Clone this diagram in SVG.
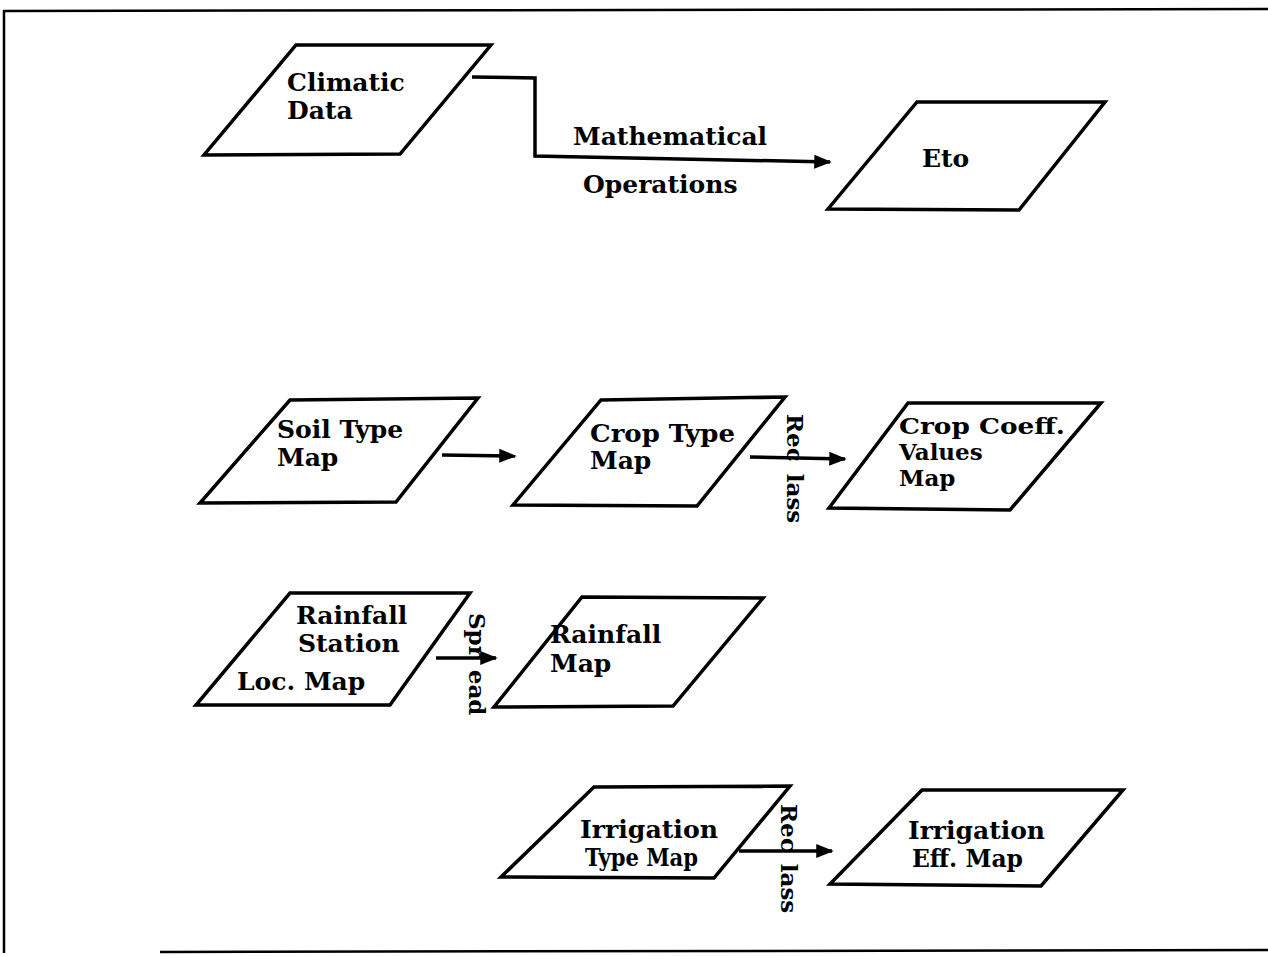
<svg xmlns="http://www.w3.org/2000/svg" width="1268" height="956" viewBox="0 0 1268 956">
<defs>
<marker id="ah" viewBox="0 0 10 10" refX="9" refY="5" markerWidth="5" markerHeight="5" orient="auto" markerUnits="strokeWidth">
<path d="M0,1 L10,5 L0,9 z" fill="#000"/>
</marker>
<style>
.sh{fill:#fff;stroke:#000;stroke-width:3.5;stroke-linejoin:miter}
.t{font-family:"DejaVu Serif","Liberation Serif",serif;font-weight:bold;font-size:25px;fill:#000}
.s{font-size:23px}
.r{font-family:"DejaVu Serif","Liberation Serif",serif;font-weight:bold;font-size:23px;fill:#000}
.a{fill:none;stroke:#000;stroke-width:3.5;marker-end:url(#ah)}
</style>
</defs>
<rect x="0" y="0" width="1268" height="956" fill="#fff"/>
<path d="M4,953 L4,11 L1268,9" fill="none" stroke="#000" stroke-width="2.5"/>
<path d="M160,952 L1268,950" fill="none" stroke="#000" stroke-width="2.5"/>

<g id="climatic">
<polygon class="sh" points="296,45 491,45 400,154 204,155"/>
<text class="t" x="287" y="91">Climatic</text>
<text class="t" x="287" y="119">Data</text>
</g>
<g id="eto">
<polygon class="sh" points="917,102 1105,102 1019,210 828,209"/>
<text class="t" x="922" y="167">Eto</text>
</g>
<g id="soil">
<polygon class="sh" points="290,400 478,398 396,502 200,503"/>
<text class="t" x="277" y="438">Soil Type</text>
<text class="t" x="277" y="466">Map</text>
</g>
<g id="crop">
<polygon class="sh" points="601,400 785,397 697,506 513,505"/>
<text class="t" x="590" y="442" textLength="145" lengthAdjust="spacingAndGlyphs">Crop Type</text>
<text class="t" x="590" y="469">Map</text>
</g>
<g id="cropcoeff">
<polygon class="sh" points="908,403 1101,403 1010,510 829,508"/>
<text class="t s" x="899" y="434" textLength="166" lengthAdjust="spacingAndGlyphs">Crop Coeff.</text>
<text class="t s" x="899" y="460">Values</text>
<text class="t s" x="899" y="486">Map</text>
</g>
<g id="rainstation">
<polygon class="sh" points="290,593 470,593 390,705 196,705"/>
<text class="t" x="296" y="624">Rainfall</text>
<text class="t" x="298" y="652">Station</text>
<text class="t" x="237" y="690">Loc. Map</text>
</g>
<g id="rainmap">
<polygon class="sh" points="582,597 763,598 673,706 494,707"/>
<text class="t" x="550" y="643">Rainfall</text>
<text class="t" x="550" y="672">Map</text>
</g>
<g id="irrtype">
<polygon class="sh" points="594,787 790,786 714,878 501,877"/>
<text class="t" x="580" y="838" textLength="138" lengthAdjust="spacingAndGlyphs">Irrigation</text>
<text class="t" x="585" y="866" textLength="113" lengthAdjust="spacingAndGlyphs">Type Map</text>
</g>
<g id="irreff">
<polygon class="sh" points="922,790 1123,790 1041,886 830,884"/>
<text class="t" x="908" y="839" textLength="137" lengthAdjust="spacingAndGlyphs">Irrigation</text>
<text class="t" x="912" y="867" textLength="111" lengthAdjust="spacingAndGlyphs">Eff. Map</text>
</g>

<g id="connectors">
<path class="a" d="M472,77 L535,78 L535,156 L830,162"/>
<path class="a" d="M442,455 L515,456"/>
<path class="a" d="M750,457 L845,459"/>
<path class="a" d="M436,658 L496,658"/>
<path class="a" d="M739,851 L832,851"/>
<text class="r" transform="translate(787,414) rotate(90)">Rec<tspan dx="12">lass</tspan></text>
<text class="r" transform="translate(469,613) rotate(90)">Spr<tspan dx="12">ead</tspan></text>
<text class="r" transform="translate(781,804) rotate(90)">Rec<tspan dx="12">lass</tspan></text>
<text class="t" x="573" y="145">Mathematical</text>
<text class="t" x="583" y="193">Operations</text>
</g>
</svg>
